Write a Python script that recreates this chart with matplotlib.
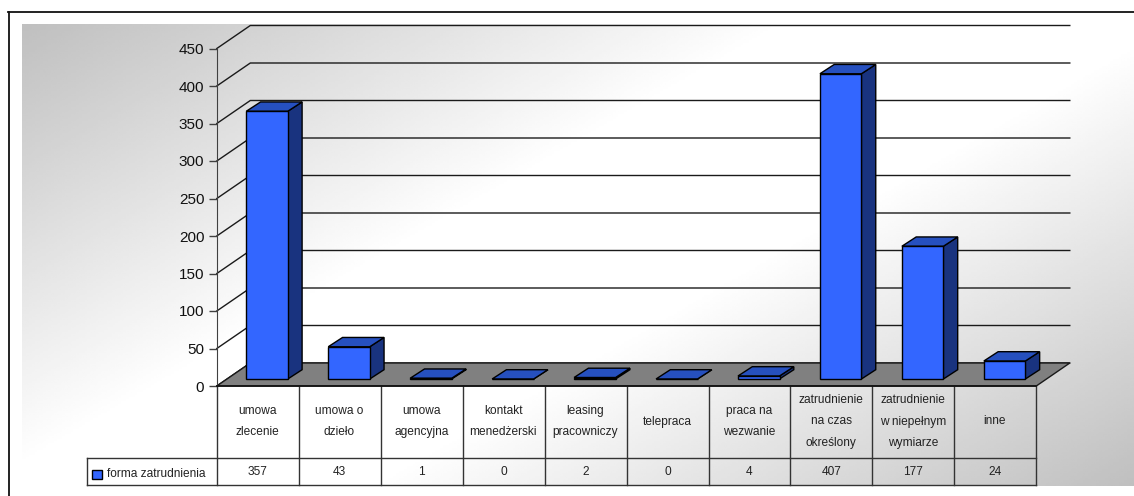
import numpy as np
import matplotlib
matplotlib.use("Agg")
import matplotlib.pyplot as plt
from matplotlib.patches import Polygon, Rectangle

plt.rcParams['font.family'] = ['Liberation Sans', 'DejaVu Sans']

categories = ["umowa\nzlecenie", "umowa o\ndzieło", "umowa\nagencyjna", "kontakt\nmenedżerski",
              "leasing\npracowniczy", "telepraca", "praca na\nwezwanie",
              "zatrudnienie\nna czas\nokreślony", "zatrudnienie\nw niepełnym\nwymiarze", "inne"]
values = [357, 43, 1, 0, 2, 0, 4, 407, 177, 24]
yticks = [0, 50, 100, 150, 200, 250, 300, 350, 400, 450]
series_name = "forma zatrudnienia"

W, H = 1134, 496
fig = plt.figure(figsize=(W / 100, H / 100), dpi=100, facecolor="white")

# background gradient, grey corners and white diagonal
bg = fig.add_axes([22 / W, 1 - 486.5 / H, (W - 22) / W, (486.5 - 24) / H])
gx, gy = np.meshgrid(np.linspace(0, 1, 400), np.linspace(0, 1, 200))
t = np.abs((gx * 1.0 + gy * 0.72) / 1.72 - 0.5) * 2
shade = 1 - np.clip((t - 0.2) / 0.8, 0, 1) * 0.25
bg.imshow(shade, cmap="gray", vmin=0, vmax=1, aspect="auto", interpolation="bilinear")
bg.axis("off")

# chart frame, only top and left show
fig.add_artist(plt.Line2D([8.5 / W, 8.5 / W], [0, 1 - 12 / H], color="#111111", lw=1.3))
fig.add_artist(plt.Line2D([8 / W, 1], [1 - 12 / H, 1 - 12 / H], color="#111111", lw=1.3))

# front plane: x in categories, y in values
ax = fig.add_axes([216.8 / W, 1 - 386 / H, 819.5 / W, 337.5 / H], facecolor="none")
ax.set_xlim(0, len(categories))
ax.set_ylim(0, 450)
px_x = 1 / 81.95
px_y = 450 / 337.5
depth_x = 33.5 * px_x
depth_y = 23 * px_y
line = "#1a1a1a"
n = len(categories)

for s in ["top", "right", "bottom"]:
    ax.spines[s].set_visible(False)
ax.spines["left"].set_color("#404040")
ax.set_xticks([])
ax.set_yticks(yticks)
ax.tick_params(axis="y", length=6, width=1, color="#404040", labelsize=11, pad=3, labelcolor="#111111")

# walls
for v in yticks:
    ax.plot([0, depth_x, n + depth_x], [v, v + depth_y, v + depth_y], color=line, lw=1, clip_on=False, zorder=1)
ax.add_patch(Polygon([(0, 0), (depth_x, depth_y), (n + depth_x, depth_y), (n, 0)], closed=True,
                     facecolor="#808080", edgecolor=line, lw=1, clip_on=False, zorder=2))

# bars
bar_left = 29.5 * px_x
bar_w = 41.5 * px_x
bar_dx = 14.3 * px_x
bar_dy = 9.3 * px_y
bar_base = 7 * px_y
for i, v in enumerate(values):
    x0 = i + bar_left
    x1 = x0 + bar_w
    y0 = bar_base
    y1 = bar_base + v
    ax.add_patch(Polygon([(x1, y0), (x1 + bar_dx, y0 + bar_dy), (x1 + bar_dx, y1 + bar_dy), (x1, y1)],
                         closed=True, facecolor="#19337f", edgecolor="black", lw=1, clip_on=False, zorder=3))
    ax.add_patch(Polygon([(x0, y1), (x0 + bar_dx, y1 + bar_dy), (x1 + bar_dx, y1 + bar_dy), (x1, y1)],
                         closed=True, facecolor="#2650bf", edgecolor="black", lw=1, clip_on=False, zorder=3))
    ax.add_patch(Rectangle((x0, y0), bar_w, v, facecolor="#3366ff", edgecolor="black", lw=1,
                           clip_on=False, zorder=4))

# data table under the axis
row1 = -72 * px_y
row2 = -99 * px_y
tcol = "#333333"
for i in range(n + 1):
    ax.plot([i, i], [0, row2], color=tcol, lw=1, clip_on=False, zorder=5)
ax.plot([0, n], [0, 0], color="#111111", lw=1.2, clip_on=False, zorder=5)
legend_left = -129.5 * px_x
ax.plot([legend_left, n], [row1, row1], color=tcol, lw=1, clip_on=False, zorder=5)
ax.plot([legend_left, n], [row2, row2], color=tcol, lw=1, clip_on=False, zorder=5)
ax.plot([legend_left, legend_left], [row1, row2], color=tcol, lw=1, clip_on=False, zorder=5)

for i, (c, v) in enumerate(zip(categories, values)):
    ax.text(i + 0.495, row1 / 2 + 0.5 * px_y, c, ha="center", va="center", fontsize=8.6, linespacing=2.1,
            color="#222222", clip_on=False)
    ax.text(i + 0.5, row1 - 14 * px_y, str(v), ha="center", va="center", fontsize=8.6,
            color="#222222", clip_on=False)

ax.add_patch(Rectangle((-125 * px_x, row1 - 21 * px_y), 10 * px_x, 9 * px_y, facecolor="#3366ff",
                       edgecolor="black", lw=1, clip_on=False, zorder=5))
ax.text(-109.5 * px_x, row1 - 16 * px_y, series_name, ha="left", va="center", fontsize=8.6,
        color="#222222", clip_on=False)

fig.savefig("out.png", dpi=100)
